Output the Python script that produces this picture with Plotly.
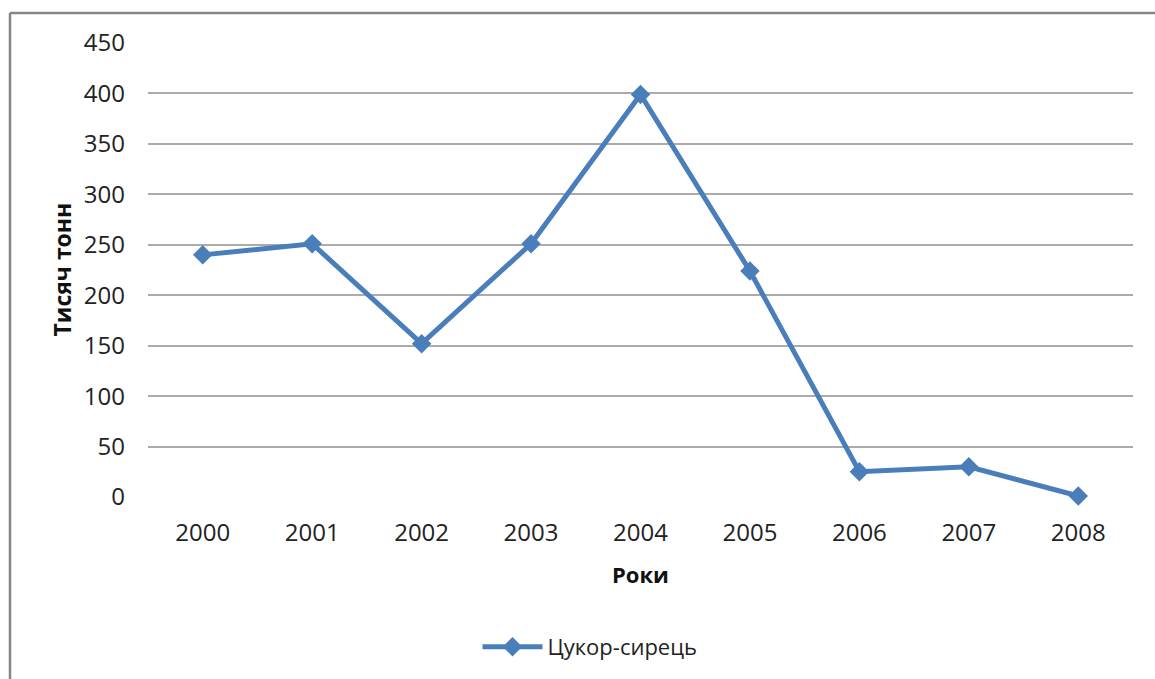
import plotly.graph_objects as go

years = ["2000", "2001", "2002", "2003", "2004", "2005", "2006", "2007", "2008"]
values = [240, 251, 152, 251, 399, 224, 25, 30, 1]
series_name = "Цукор-сирець"
y_ticks = [0, 50, 100, 150, 200, 250, 300, 350, 400, 450]

W, H = 1155, 679
PL, PT, PW, PH = 148, 43, 985, 455  # plot area in screen pixels
L, T = PL, PT
R = W - L - PW
B = H - T - PH

def px(x):
    return (x - PL) / PW

def py(y):
    return (PT + PH - y) / PH

FONT = "Open Sans"
BLUE = "#4A7EBB"
FRAME = dict(color="#868686", width=2.5)

fig = go.Figure()
fig.add_trace(go.Scatter(
    x=years, y=values, name=series_name, mode="lines+markers",
    line=dict(color=BLUE, width=5),
    marker=dict(symbol="diamond", size=15, color=BLUE),
    cliponaxis=False,
))

fig.update_layout(
    width=W, height=H,
    margin=dict(l=L, r=R, t=T, b=B),
    paper_bgcolor="white", plot_bgcolor="white",
    font=dict(family=FONT, size=24, color="#222222"),
    showlegend=True,
    legend=dict(orientation="h", x=px(590), y=py(647), xanchor="center", yanchor="middle",
                font=dict(family=FONT, size=22, color="#222222"), itemwidth=60),
    xaxis=dict(type="category", range=[-0.5, 8.5], showgrid=False, zeroline=False,
               showline=False, ticks="", ticklabelstandoff=19,
               tickfont=dict(family=FONT, size=24, color="#222222")),
    yaxis=dict(range=[0, 450], tickvals=y_ticks, showgrid=True, gridcolor="#ABABAB",
               gridwidth=2, zeroline=False, showline=False, ticks="",
               ticklabelstandoff=22,
               tickfont=dict(family=FONT, size=24, color="#222222")),
    annotations=[
        dict(text="<b>Тисяч тонн</b>", xref="paper", yref="paper", x=px(62), y=py(270),
             textangle=-90, showarrow=False, xanchor="center", yanchor="middle",
             font=dict(family=FONT, size=23, color="#111111")),
        dict(text="<b>Роки</b>", xref="paper", yref="paper", x=px(640), y=py(575),
             showarrow=False, xanchor="center", yanchor="middle",
             font=dict(family=FONT, size=22, color="#111111")),
    ],
    shapes=[
        dict(type="line", xref="paper", yref="paper", x0=px(10), x1=px(1160),
             y0=py(13), y1=py(13), line=FRAME, layer="below"),
        dict(type="line", xref="paper", yref="paper", x0=px(10), x1=px(10),
             y0=py(13), y1=py(690), line=FRAME, layer="below"),
    ],
)

fig.write_html(
    "out.html",
    config={"displayModeBar": False},
    post_script="document.body.style.margin='0';document.body.style.overflow='hidden';",
)
